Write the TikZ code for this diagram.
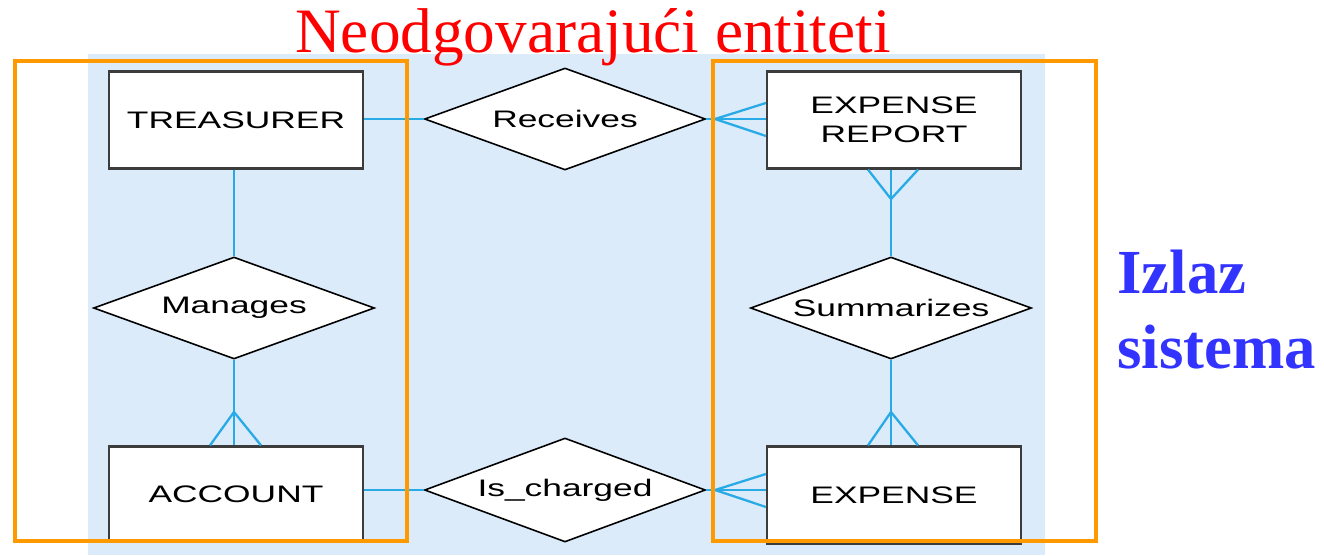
\documentclass[tikz,border=0pt]{standalone}
\usepackage{fontspec}
\setmainfont{Liberation Serif}
\newfontfamily\erfont[FakeStretch=1.48]{Liberation Sans}
\usetikzlibrary{shapes.geometric,calc}
\definecolor{bgblue}{RGB}{219,235,250}
\definecolor{relblue}{RGB}{40,170,230}
\definecolor{boxgray}{RGB}{60,60,60}
\definecolor{orng}{RGB}{255,153,0}
\definecolor{titlered}{RGB}{255,0,0}
\definecolor{outblue}{RGB}{51,51,255}
\begin{document}
\begin{tikzpicture}[x=0.02cm,y=-0.02cm,
  entity/.style={draw=boxgray,line width=1.3pt,fill=white,rectangle,inner sep=0pt,
    minimum width=5.08cm,minimum height=1.94cm,align=center,
    font=\erfont\fontsize{13.6}{16.5}\selectfont},
  relation/.style={draw=black,line width=0.9pt,fill=white,diamond,aspect=2.73,inner sep=0pt,
    minimum width=5.62cm,minimum height=2.04cm,
    font=\erfont\fontsize{13.6}{16.5}\selectfont},
  rel/.style={draw=relblue,line width=1.3pt},
  frame/.style={draw=orng,line width=2.4pt},
  outtext/.style={text=outblue,font=\fontsize{35.7}{42}\selectfont\bfseries,anchor=base west,inner sep=0pt}]
\useasboundingbox (0,0) rectangle (1324,555);
\fill[bgblue] (88,54) rectangle (1045,555);
% title
\node[text=titlered,font=\fontsize{36}{40}\selectfont,anchor=base,inner sep=0pt] (title) at (593,52) {Neodgovaraju\'ci entiteti};
% entities
\node[entity] (tre) at (236,120) {TREASURER};
\node[entity] (er) at (894,120) {EXPENSE\\REPORT};
\node[entity,minimum height=1.9cm] (acc) at (236,494) {ACCOUNT};
\node[entity] (exp) at (894,495) {EXPENSE};
% relationships
\node[relation] (rec) at (565,119) {Receives};
\node[relation] (man) at (234,308) {Manages};
\node[relation] (sum) at (891,308) {Summarizes};
\node[relation,minimum height=2.08cm] (isc) at (565,490) {Is\_charged};
% connectors
\draw[rel] (tre.east |- rec.west) -- (rec.west);
\draw[rel] (tre.south -| man.north) -- (man.north);
\draw[rel] (acc.east |- isc.west) -- (isc.west);
\draw[rel] (rec.east) -- (er.west |- rec.east);
\draw[rel] (isc.east) -- (exp.west |- isc.east);
\draw[rel] (man.south) -- (acc.north -| man.south);
\draw[rel] (er.south -| sum.north) -- (sum.north);
\draw[rel] (sum.south) -- (exp.north -| sum.south);
% crow's feet
\coordinate (cfa) at (715,119);
\draw[rel] ($(er.west |- cfa)+(0,-16)$) -- (cfa) -- ($(er.west |- cfa)+(0,17)$);
\coordinate (cfb) at (715,490);
\draw[rel] ($(exp.west |- cfb)+(0,-16)$) -- (cfb) -- ($(exp.west |- cfb)+(0,17)$);
\coordinate (cfc) at (234,412);
\draw[rel] ($(acc.north -| cfc)+(-24,0)$) -- (cfc) -- ($(acc.north -| cfc)+(27,0)$);
\coordinate (cfd) at (891,412);
\draw[rel] ($(exp.north -| cfd)+(-23,0)$) -- (cfd) -- ($(exp.north -| cfd)+(27,0)$);
\coordinate (cfe) at (891,199);
\draw[rel] ($(er.south -| cfe)+(-23,0)$) -- (cfe) -- ($(er.south -| cfe)+(27,0)$);
% frames
\draw[frame] (15,61) rectangle (407,541);
\draw[frame] (713,61) rectangle (1096,541);
% output label
\node[outtext] (iz1) at (1117,293) {Izlaz};
\node[outtext] (iz2) at (1117,368) {sistema};
\end{tikzpicture}
\end{document}
